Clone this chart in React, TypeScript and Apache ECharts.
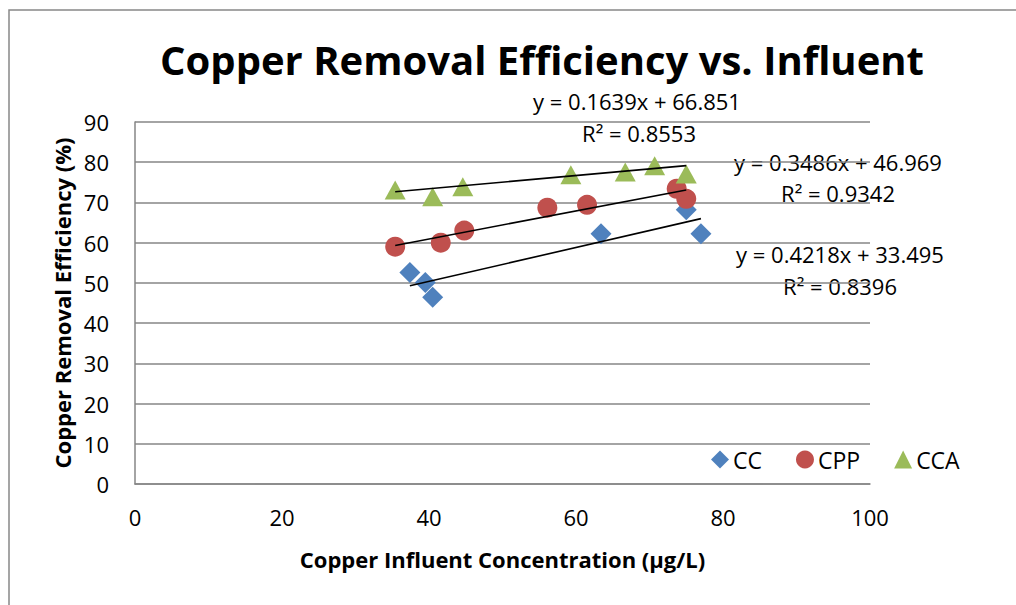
import React, { useEffect, useRef } from "react";
import * as echarts from "echarts";

const ccX = [37.4, 39.5, 40.5, 63.4, 75.0, 77.0];
const ccY = [52.6, 50.1, 46.4, 62.2, 68.2, 62.2];
const cppX = [35.4, 41.6, 44.8, 56.1, 61.5, 73.7, 75.0];
const cppY = [59.0, 60.0, 63.0, 68.7, 69.4, 73.4, 70.9];
const ccaX = [35.4, 40.5, 44.6, 59.3, 66.7, 70.7, 75.0];
const ccaY = [73.1, 71.4, 73.9, 76.9, 77.6, 79.1, 77.1];

const ccFit = { slope: 0.4218, intercept: 33.495, r2: "0.8396" };
const cppFit = { slope: 0.3486, intercept: 46.969, r2: "0.9342" };
const ccaFit = { slope: 0.1639, intercept: 66.851, r2: "0.8553" };

const xTicks = [0, 20, 40, 60, 80, 100];
const yTicks = [0, 10, 20, 30, 40, 50, 60, 70, 80, 90];

const FONT = "'Open Sans', Calibri, sans-serif";

function pairs(xs: number[], ys: number[]) {
  return xs.map((x, i) => [x, ys[i]]);
}
function trend(xs: number[], fit: { slope: number; intercept: number }) {
  const lo = Math.min(...xs);
  const hi = Math.max(...xs);
  return [
    [lo, fit.slope * lo + fit.intercept],
    [hi, fit.slope * hi + fit.intercept],
  ];
}
function eq(fit: { slope: number; intercept: number }) {
  return `y = ${fit.slope}x + ${fit.intercept}`;
}

export default function App() {
  const ref = useRef<HTMLDivElement>(null);
  useEffect(() => {
    document.body.style.margin = "0";
    const chart = echarts.init(ref.current!, null, { renderer: "svg" });
    const trendStyle = { color: "#000", width: 1.6 };
    const labelText = (x: number, y: number, t: string) => ({
      type: "text",
      x,
      y,
      style: {
        text: t,
        fontFamily: FONT,
        fontSize: 22,
        fill: "#000",
        align: "center",
        verticalAlign: "middle",
      },
    });
    chart.setOption({
      animation: false,
      backgroundColor: "#fff",
      title: {
        text: "Copper Removal Efficiency vs. Influent",
        left: 537,
        top: 34,
        textAlign: "center",
        textStyle: {
          fontFamily: FONT,
          fontWeight: "bold",
          fontSize: 40,
          color: "#000",
        },
      },
      grid: { left: 135, right: 146, top: 122, bottom: 121 },
      xAxis: {
        type: "value",
        min: 0,
        max: 100,
        interval: 20,
        name: "Copper Influent Concentration (µg/L)",
        nameLocation: "middle",
        nameGap: 64,
        nameTextStyle: { fontFamily: FONT, fontWeight: "bold", fontSize: 22, color: "#000" },
        axisLine: { show: true, lineStyle: { color: "#868686", width: 1.5 } },
        axisTick: { show: false },
        splitLine: { show: false },
        axisLabel: {
          fontFamily: FONT,
          fontSize: 22,
          color: "#000",
          margin: 22,
          customValues: xTicks,
        },
      },
      yAxis: {
        type: "value",
        min: 0,
        max: 90,
        interval: 10,
        name: "Copper Removal Efficiency (%)",
        nameLocation: "middle",
        nameGap: 60,
        nameTextStyle: { fontFamily: FONT, fontWeight: "bold", fontSize: 22, color: "#000" },
        axisLine: { show: true, lineStyle: { color: "#868686", width: 1.5 } },
        axisTick: { show: false },
        splitLine: { show: true, lineStyle: { color: "#868686", width: 1.5 } },
        axisLabel: {
          fontFamily: FONT,
          fontSize: 22,
          color: "#000",
          margin: 26,
          customValues: yTicks,
        },
      },
      legend: {
        left: 706,
        top: 443,
        itemGap: 34,
        itemWidth: 18,
        itemHeight: 18,
        textStyle: { fontFamily: FONT, fontSize: 23, color: "#000", padding: [0, 0, 0, -1] },
        data: [
          { name: "CC", icon: "diamond" },
          { name: "CPP", icon: "circle" },
          { name: "CCA", icon: "triangle" },
        ],
      },
      series: [
        {
          name: "CC",
          type: "scatter",
          symbol: "diamond",
          symbolSize: 21,
          itemStyle: { color: "#4F81BD", opacity: 1 },
          data: pairs(ccX, ccY),
          z: 3,
        },
        {
          name: "CPP",
          type: "scatter",
          symbol: "circle",
          symbolSize: 20,
          itemStyle: { color: "#C0504D", opacity: 1 },
          data: pairs(cppX, cppY),
          z: 3,
        },
        {
          name: "CCA",
          type: "scatter",
          symbol: "triangle",
          symbolSize: [21, 19],
          itemStyle: { color: "#9BBB59", opacity: 1 },
          data: pairs(ccaX, ccaY),
          z: 3,
        },
        {
          name: "CC trend",
          type: "line",
          data: trend(ccX, ccFit),
          showSymbol: false,
          lineStyle: trendStyle,
          itemStyle: { color: "#000" },
          z: 4,
        },
        {
          name: "CPP trend",
          type: "line",
          data: trend(cppX, cppFit),
          showSymbol: false,
          lineStyle: trendStyle,
          itemStyle: { color: "#000" },
          z: 4,
        },
        {
          name: "CCA trend",
          type: "line",
          data: trend(ccaX, ccaFit),
          showSymbol: false,
          lineStyle: trendStyle,
          itemStyle: { color: "#000" },
          z: 4,
        },
      ],
      graphic: [
        {
          type: "rect",
          shape: { x: 9, y: 10, width: 1100, height: 700 },
          style: { fill: "none", stroke: "#888", lineWidth: 1.5 },
          silent: true,
        },
        labelText(637, 101, eq(ccaFit)),
        labelText(639, 133, `R² = ${ccaFit.r2}`),
        labelText(838, 162, eq(cppFit)),
        labelText(838, 193, `R² = ${cppFit.r2}`),
        labelText(840, 254, eq(ccFit)),
        labelText(840, 286, `R² = ${ccFit.r2}`),
      ],
    });
    return () => chart.dispose();
  }, []);
  return <div ref={ref} style={{ width: 1016, height: 605 }} />;
}
